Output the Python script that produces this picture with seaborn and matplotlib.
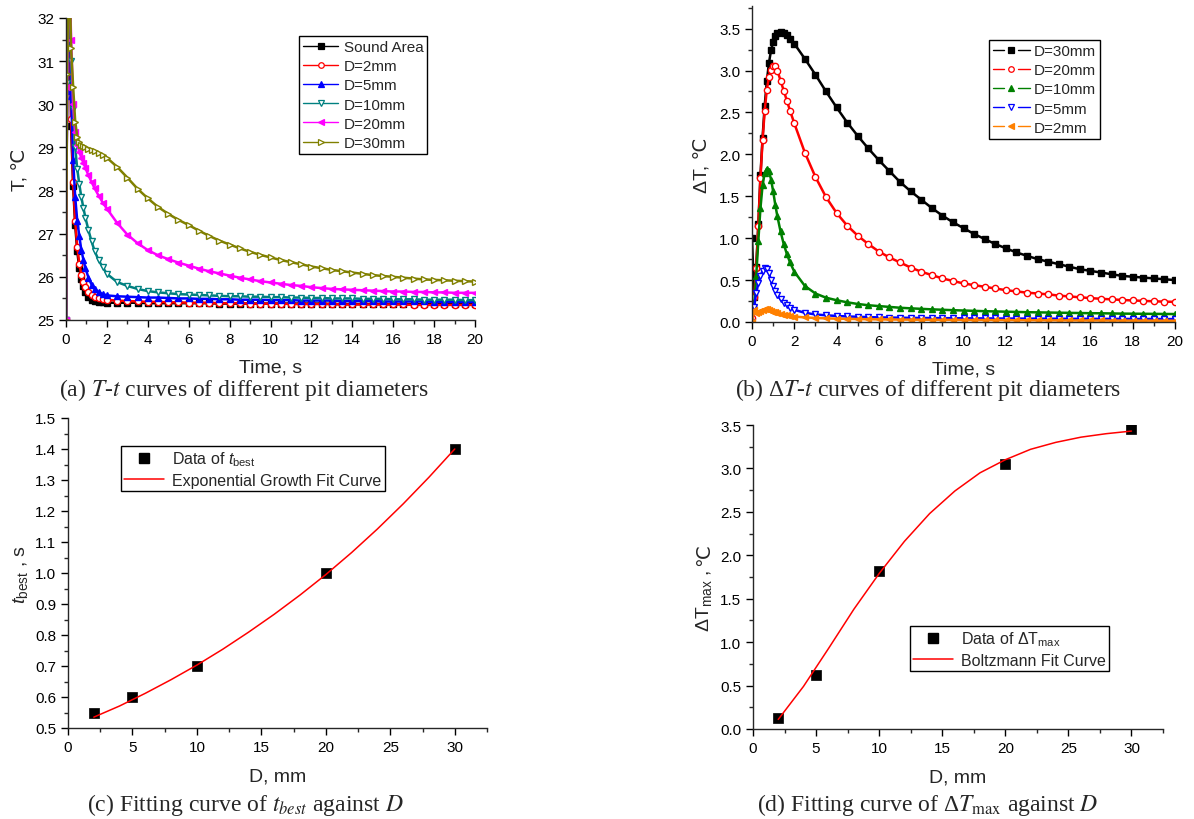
import numpy as np
import pandas as pd
import matplotlib
matplotlib.use("Agg")
import matplotlib.pyplot as plt
import seaborn as sns
from matplotlib.lines import Line2D
from matplotlib.legend_handler import HandlerBase
from matplotlib.ticker import MultipleLocator, FormatStrFormatter

# =========================================================
# 1. Data
# =========================================================
# (a) temperature vs time
TIME_A = [0, 0.05, 0.15, 0.25, 0.35, 0.45, 0.55, 0.65, 0.75, 0.85, 0.95,
          1.1, 1.25, 1.4, 1.6, 1.8,
          2.0, 2.5, 3.0, 3.5, 4.0, 4.5, 5.0, 5.5, 6.0, 6.5, 7.0, 7.5, 8.0,
          8.5, 9.0, 9.5, 10.0, 10.5, 11.0, 11.5, 12.0, 12.5, 13.0, 13.5, 14.0,
          14.5, 15.0, 15.5, 16.0, 16.5, 17.0, 17.5, 18.0, 18.5, 19.0, 19.5, 20.0]

T_SOUND = [25.0, 30.6, 34.5, 29.5, 28.1, 27.2, 26.6, 26.2, 25.95, 25.78, 25.65,
           25.53, 25.47, 25.44, 25.42, 25.41,
           25.40, 25.40, 25.40, 25.40, 25.39, 25.39, 25.39, 25.39, 25.39, 25.39, 25.39, 25.38, 25.38,
           25.38, 25.38, 25.38, 25.38, 25.38, 25.38, 25.38, 25.38, 25.38, 25.37, 25.37, 25.37,
           25.37, 25.37, 25.37, 25.37, 25.37, 25.37, 25.37, 25.37, 25.37, 25.37, 25.37, 25.37]
T_D2 = [25.0, 30.4, 34.5, 29.65, 28.2, 27.3, 26.7, 26.3, 26.05, 25.88, 25.76,
        25.64, 25.57, 25.53, 25.50, 25.48,
        25.47, 25.45, 25.44, 25.43, 25.42, 25.42, 25.41, 25.41, 25.40, 25.40, 25.40, 25.39, 25.39,
        25.39, 25.38, 25.38, 25.38, 25.38, 25.37, 25.37, 25.37, 25.37, 25.37, 25.36, 25.36,
        25.36, 25.36, 25.36, 25.36, 25.36, 25.35, 25.35, 25.35, 25.35, 25.35, 25.35, 25.35]
T_D5 = [25.0, 30.3, 34.0, 30.2, 28.7, 27.85, 27.3, 26.95, 26.62, 26.4, 26.2,
        25.98, 25.82, 25.72, 25.64, 25.60,
        25.57, 25.55, 25.54, 25.53, 25.52, 25.52, 25.51, 25.50, 25.50, 25.49, 25.49, 25.48, 25.48,
        25.47, 25.47, 25.47, 25.46, 25.46, 25.46, 25.45, 25.45, 25.45, 25.45, 25.44, 25.44,
        25.44, 25.44, 25.43, 25.43, 25.43, 25.43, 25.43, 25.42, 25.42, 25.42, 25.42, 25.42]
T_D10 = [25.0, 30.5, 33.5, 31.0, 29.9, 29.0, 28.5, 28.15, 27.85, 27.6, 27.37,
         27.08, 26.82, 26.6, 26.38, 26.22,
         26.07, 25.88, 25.79, 25.72, 25.67, 25.64, 25.62, 25.60, 25.59, 25.58, 25.57, 25.56, 25.55,
         25.55, 25.54, 25.54, 25.53, 25.53, 25.52, 25.52, 25.51, 25.51, 25.50, 25.50, 25.50,
         25.49, 25.49, 25.49, 25.48, 25.48, 25.48, 25.47, 25.47, 25.47, 25.47, 25.46, 25.46]
T_D20 = [25.0, 30.4, 33.5, 31.5, 30.0, 29.35, 29.05, 28.9, 28.75, 28.65, 28.52,
         28.35, 28.2, 28.05, 27.88, 27.72,
         27.58, 27.25, 26.98, 26.78, 26.62, 26.50, 26.41, 26.33, 26.26, 26.19, 26.13, 26.08, 26.03,
         25.98, 25.94, 25.90, 25.87, 25.84, 25.81, 25.79, 25.76, 25.74, 25.72, 25.71, 25.70,
         25.69, 25.68, 25.67, 25.66, 25.66, 25.65, 25.65, 25.64, 25.64, 25.63, 25.63, 25.63]
T_D30 = [25.0, 30.7, 33.5, 31.3, 30.4, 29.6, 29.25, 29.12, 29.06, 29.03, 29.0,
         28.97, 28.94, 28.91, 28.87, 28.82,
         28.76, 28.55, 28.30, 28.04, 27.82, 27.62, 27.46, 27.32, 27.20, 27.07, 26.95, 26.84, 26.75,
         26.66, 26.58, 26.51, 26.45, 26.39, 26.34, 26.29, 26.24, 26.20, 26.16, 26.13, 26.10,
         26.07, 26.04, 26.02, 26.00, 25.98, 25.96, 25.94, 25.93, 25.92, 25.91, 25.90, 25.89]

# (b) temperature difference vs time
TIME_B = [0, 0.1, 0.2, 0.3, 0.4, 0.5, 0.6, 0.7, 0.8, 0.9, 1.0, 1.1, 1.2,
          1.35, 1.5, 1.65, 1.8,
          2.0, 2.5, 3.0, 3.5, 4.0, 4.5, 5.0, 5.5, 6.0, 6.5, 7.0, 7.5, 8.0,
          8.5, 9.0, 9.5, 10.0, 10.5, 11.0, 11.5, 12.0, 12.5, 13.0, 13.5, 14.0,
          14.5, 15.0, 15.5, 16.0, 16.5, 17.0, 17.5, 18.0, 18.5, 19.0, 19.5, 20.0]

DT_D30 = [1.0, 0.3, 0.66, 1.17, 1.75, 2.2, 2.58, 2.87, 3.09, 3.24, 3.34, 3.41, 3.445,
          3.46, 3.45, 3.42, 3.38,
          3.32, 3.14, 2.95, 2.75, 2.56, 2.38, 2.22, 2.07, 1.93, 1.80, 1.67, 1.56, 1.46,
          1.36, 1.27, 1.19, 1.12, 1.05, 0.99, 0.93, 0.88, 0.83, 0.79, 0.75, 0.72,
          0.69, 0.66, 0.63, 0.61, 0.59, 0.57, 0.55, 0.54, 0.53, 0.52, 0.51, 0.50]
DT_D20 = [0.05, 0.3, 0.64, 1.15, 1.72, 2.17, 2.52, 2.77, 2.92, 3.01, 3.05, 3.05, 3.0,
          2.88, 2.76, 2.64, 2.52,
          2.37, 2.02, 1.73, 1.49, 1.30, 1.15, 1.03, 0.93, 0.84, 0.77, 0.71, 0.65, 0.60,
          0.56, 0.52, 0.49, 0.46, 0.44, 0.42, 0.40, 0.38, 0.365, 0.35, 0.34, 0.33,
          0.315, 0.305, 0.295, 0.285, 0.277, 0.27, 0.263, 0.257, 0.252, 0.247, 0.243, 0.24]
DT_D10 = [0.0, 0.2, 0.55, 0.97, 1.36, 1.63, 1.78, 1.83, 1.80, 1.70, 1.56, 1.40, 1.26,
          1.08, 0.93, 0.81, 0.71,
          0.60, 0.43, 0.34, 0.29, 0.26, 0.235, 0.215, 0.20, 0.19, 0.18, 0.17, 0.163, 0.157,
          0.151, 0.146, 0.141, 0.137, 0.133, 0.129, 0.126, 0.123, 0.12, 0.117, 0.115, 0.113,
          0.111, 0.109, 0.107, 0.105, 0.104, 0.102, 0.10, 0.099, 0.098, 0.097, 0.096, 0.095]
DT_D5 = [0.0, 0.18, 0.35, 0.46, 0.55, 0.61, 0.64, 0.63, 0.58, 0.50, 0.43, 0.37, 0.32,
         0.27, 0.23, 0.20, 0.17,
         0.145, 0.11, 0.09, 0.08, 0.072, 0.066, 0.062, 0.058, 0.055, 0.053, 0.051, 0.049, 0.048,
         0.047, 0.046, 0.045, 0.044, 0.043, 0.043, 0.042, 0.041, 0.041, 0.04, 0.04, 0.039,
         0.039, 0.038, 0.038, 0.038, 0.037, 0.037, 0.037, 0.036, 0.036, 0.036, 0.035, 0.035]
DT_D2 = [0.0, 0.14, 0.11, 0.12, 0.135, 0.145, 0.15, 0.15, 0.145, 0.135, 0.125, 0.115, 0.105,
         0.095, 0.085, 0.078, 0.072,
         0.065, 0.055, 0.048, 0.043, 0.04, 0.037, 0.035, 0.033, 0.031, 0.03, 0.029, 0.028, 0.027,
         0.026, 0.025, 0.025, 0.024, 0.023, 0.023, 0.022, 0.022, 0.021, 0.021, 0.02, 0.02,
         0.019, 0.019, 0.018, 0.018, 0.018, 0.017, 0.017, 0.017, 0.016, 0.016, 0.015, 0.015]

# (c), (d) fitted quantities
D_DATA = [2, 5, 10, 20, 30]
T_BEST = [0.55, 0.60, 0.70, 1.00, 1.40]
DT_MAX = [0.13, 0.62, 1.82, 3.05, 3.45]
D_FIT = [2, 4, 6, 8, 10, 12, 14, 16, 18, 20, 22, 24, 26, 28, 30]
T_BEST_FIT = [0.535, 0.571, 0.612, 0.656, 0.703, 0.754, 0.809, 0.867, 0.929, 0.995,
              1.066, 1.142, 1.223, 1.309, 1.400]
DT_MAX_FIT = [0.11, 0.49, 0.93, 1.38, 1.79, 2.16, 2.48, 2.74, 2.95, 3.10,
              3.22, 3.30, 3.36, 3.40, 3.43]

# =========================================================
# 2. Styling
# =========================================================
sns.set_style("ticks")
plt.rcParams["font.family"] = ["Liberation Sans", "DejaVu Sans"]
plt.rcParams["mathtext.fontset"] = "custom"
plt.rcParams["mathtext.rm"] = "Liberation Sans"
plt.rcParams["mathtext.it"] = "Liberation Sans:italic"
plt.rcParams["mathtext.bf"] = "Liberation Sans:bold"
plt.rcParams["axes.linewidth"] = 1.0

TICK_FS = 11
LABEL_FS = 14
LEGEND_FS = 11
CAPTION_FS = 17
CELSIUS = "\u2103"


class GapLineHandler(HandlerBase):
    """Origin-like legend key: line - marker - line, with gaps round the marker."""
    def create_artists(self, legend, orig, xdescent, ydescent, width, height, fontsize, trans):
        y = height / 2 - ydescent
        x0 = -xdescent
        mid = x0 + width / 2
        gap = width * 0.19
        kw = dict(color=orig.get_color(), lw=orig.get_linewidth())
        left = Line2D([x0, mid - gap], [y, y], **kw)
        right = Line2D([mid + gap, x0 + width], [y, y], **kw)
        mark = Line2D([mid], [y], linestyle="none", marker=orig.get_marker(),
                      markersize=orig.get_markersize(),
                      markerfacecolor=orig.get_markerfacecolor(),
                      markeredgecolor=orig.get_markeredgecolor(),
                      markeredgewidth=orig.get_markeredgewidth())
        for art in (left, right, mark):
            art.set_transform(trans)
        return [left, right, mark]


def style_axis(ax):
    sns.despine(ax=ax)
    ax.tick_params(which="major", direction="out", length=5, width=1,
                   labelsize=TICK_FS, colors="black")
    ax.tick_params(which="minor", direction="out", length=3, width=1)


def draw_series(ax, x, y, color, marker, filled, ms=4.5, lw=1.8):
    face = color if filled else "white"
    sns.lineplot(x=x, y=y, ax=ax, color=color, marker=marker, markersize=ms,
                 markeredgecolor=color, markerfacecolor=face,
                 markeredgewidth=1.0, linewidth=lw, estimator=None,
                 sort=False, legend=False)
    # legend key drawn thinner, like the original
    return Line2D([], [], color=color, marker=marker, markersize=4,
                  markeredgecolor=color, markerfacecolor=face,
                  markeredgewidth=0.9, lw=1.0)


def frame_legend(leg):
    fr = leg.get_frame()
    fr.set_edgecolor("black")
    fr.set_linewidth(1.0)
    fr.set_boxstyle("square", pad=0)


# =========================================================
# 3. Figure
# =========================================================
fig = plt.figure(figsize=(11.94, 8.2), dpi=100)
W, H = 1194.0, 820.0


def make_axes(left, right, top, bottom):
    return fig.add_axes([left / W, 1 - bottom / H, (right - left) / W, (bottom - top) / H])


ax_a = make_axes(66, 475, 19, 321)
ax_b = make_axes(752, 1175, 7, 323)
ax_c = make_axes(68, 487, 419, 729)
ax_d = make_axes(753, 1163, 426, 730)

# ---- (a)
series_a = [
    ("Sound Area", T_SOUND, "black", "s", True),
    ("D=2mm", T_D2, "#FF0000", "o", False),
    ("D=5mm", T_D5, "#0000FF", "^", True),
    ("D=10mm", T_D10, "#008080", "v", False),
    ("D=20mm", T_D20, "#FF00FF", "<", True),
    ("D=30mm", T_D30, "#808000", ">", False),
]
handles_a = []
for name, vals, col, mk, filled in series_a:
    handles_a.append(draw_series(ax_a, TIME_A, vals, col, mk, filled))
ax_a.set_xlim(0, 20)
ax_a.set_ylim(25, 32)
ax_a.xaxis.set_major_locator(MultipleLocator(2))
ax_a.xaxis.set_minor_locator(MultipleLocator(1))
ax_a.yaxis.set_major_locator(MultipleLocator(1))
ax_a.yaxis.set_minor_locator(MultipleLocator(0.5))
ax_a.set_xlabel("Time, s", fontsize=LABEL_FS, labelpad=9)
ax_a.set_ylabel("T, " + CELSIUS, fontsize=LABEL_FS, labelpad=6)
leg = ax_a.legend(handles_a, [s[0] for s in series_a], loc="upper right",
                  bbox_to_anchor=(0.883, 0.940), borderaxespad=0, fontsize=LEGEND_FS,
                  handlelength=2.3, handletextpad=0.35, labelspacing=0.34,
                  borderpad=0.25, fancybox=False, framealpha=1)
frame_legend(leg)
style_axis(ax_a)

# ---- (b)
series_b = [
    ("D=30mm", DT_D30, "black", "s", True),
    ("D=20mm", DT_D20, "#FF0000", "o", False),
    ("D=10mm", DT_D10, "#008000", "^", True),
    ("D=5mm", DT_D5, "#0000FF", "v", False),
    ("D=2mm", DT_D2, "#FF8000", "<", True),
]
handles_b = []
for name, vals, col, mk, filled in series_b:
    handles_b.append(draw_series(ax_b, TIME_B, vals, col, mk, filled))
ax_b.set_xlim(0, 20)
ax_b.set_ylim(0, 3.77)
ax_b.xaxis.set_major_locator(MultipleLocator(2))
ax_b.xaxis.set_minor_locator(MultipleLocator(1))
ax_b.yaxis.set_major_locator(MultipleLocator(0.5))
ax_b.yaxis.set_minor_locator(MultipleLocator(0.25))
ax_b.yaxis.set_major_formatter(FormatStrFormatter("%.1f"))
ax_b.set_xlabel("Time, s", fontsize=LABEL_FS, labelpad=9)
ax_b.set_ylabel("\u0394T, " + CELSIUS, fontsize=LABEL_FS, labelpad=6)
leg = ax_b.legend(handles_b, [s[0] for s in series_b], loc="upper right",
                  bbox_to_anchor=(0.823, 0.892), borderaxespad=0, fontsize=LEGEND_FS,
                  handlelength=2.4, handletextpad=0.3, labelspacing=0.34,
                  borderpad=0.25, fancybox=False, framealpha=1,
                  handler_map={Line2D: GapLineHandler()})
frame_legend(leg)
style_axis(ax_b)

# ---- (c)
sns.lineplot(x=D_FIT, y=T_BEST_FIT, ax=ax_c, color="#FF0000", linewidth=1.1,
             estimator=None, sort=False, legend=False)
sns.scatterplot(x=D_DATA, y=T_BEST, ax=ax_c, color="black", marker="s", s=45,
                edgecolor="black", linewidth=0.5, legend=False, zorder=1)
ax_c.set_xlim(0, 32.5)
ax_c.set_ylim(0.5, 1.5)
ax_c.xaxis.set_major_locator(MultipleLocator(5))
ax_c.xaxis.set_minor_locator(MultipleLocator(2.5))
ax_c.yaxis.set_major_locator(MultipleLocator(0.1))
ax_c.yaxis.set_minor_locator(MultipleLocator(0.05))
ax_c.yaxis.set_major_formatter(FormatStrFormatter("%.1f"))
ax_c.set_xlabel("D, mm", fontsize=LABEL_FS, labelpad=10)
ax_c.set_ylabel(r"$t_{\mathrm{best}}$ , s", fontsize=LABEL_FS, labelpad=4)
h_c = [Line2D([], [], linestyle="none", marker="s", markersize=7, color="black"),
       Line2D([], [], color="#FF0000", lw=1.1)]
leg = ax_c.legend(h_c, [r"Data of $t_{\mathrm{best}}$", "Exponential Growth Fit Curve"],
                  loc="upper left", bbox_to_anchor=(0.1265, 0.910), borderaxespad=0,
                  fontsize=11.5, handlelength=2.5, handletextpad=0.5,
                  labelspacing=0.3, borderpad=0.2, fancybox=False, framealpha=1)
frame_legend(leg)
style_axis(ax_c)

# ---- (d)
sns.lineplot(x=D_FIT, y=DT_MAX_FIT, ax=ax_d, color="#FF0000", linewidth=1.1,
             estimator=None, sort=False, legend=False)
sns.scatterplot(x=D_DATA, y=DT_MAX, ax=ax_d, color="black", marker="s", s=45,
                edgecolor="black", linewidth=0.5, legend=False, zorder=1)
ax_d.set_xlim(0, 32.5)
ax_d.set_ylim(0, 3.5)
ax_d.xaxis.set_major_locator(MultipleLocator(5))
ax_d.xaxis.set_minor_locator(MultipleLocator(2.5))
ax_d.yaxis.set_major_locator(MultipleLocator(0.5))
ax_d.yaxis.set_minor_locator(MultipleLocator(0.25))
ax_d.yaxis.set_major_formatter(FormatStrFormatter("%.1f"))
ax_d.set_xlabel("D, mm", fontsize=LABEL_FS, labelpad=10)
h_d = [Line2D([], [], linestyle="none", marker="s", markersize=7, color="black"),
       Line2D([], [], color="#FF0000", lw=1.1)]
leg = ax_d.legend(h_d, ["Data of \u0394T$_{\\mathrm{max}}$", "Boltzmann Fit Curve"],
                  loc="upper left", bbox_to_anchor=(0.383, 0.339), borderaxespad=0,
                  fontsize=11.5, handlelength=2.5, handletextpad=0.5,
                  labelspacing=0.3, borderpad=0.2, fancybox=False, framealpha=1)
frame_legend(leg)
style_axis(ax_d)

# y label of (d): the mathtext part and the Celsius sign are separate texts,
# because the mathtext font has no glyph for the Celsius sign
ylab = ax_d.set_ylabel("\u0394T$_{\\mathrm{max}}$ ,", fontsize=LABEL_FS)
ylab.set_verticalalignment("baseline")
ax_d.yaxis.set_label_coords(-0.107, 0.424)
fig.canvas.draw()
bb = ylab.get_window_extent()
fig.text((753 - 0.107 * 410) / W, (bb.y1 + 4) / H, CELSIUS, rotation=90,
         rotation_mode="anchor", ha="left", va="baseline", fontsize=LABEL_FS)

# ---- captions
cap_kw = dict(ha="center", va="center", fontsize=CAPTION_FS,
              fontfamily="Liberation Serif", math_fontfamily="stix")
fig.text(244 / W, 1 - 390 / H, r"(a) $T$-$t$ curves of different pit diameters", **cap_kw)
fig.text(928 / W, 1 - 390 / H, "(b) \u0394$T$-$t$ curves of different pit diameters", **cap_kw)
fig.text(245 / W, 1 - 805 / H, r"(c) Fitting curve of $t_{best}$ against $D$", **cap_kw)
fig.text(928 / W, 1 - 805 / H, "(d) Fitting curve of \u0394$T_{\\mathrm{max}}$ against $D$", **cap_kw)

fig.savefig("out.png", dpi=100)
